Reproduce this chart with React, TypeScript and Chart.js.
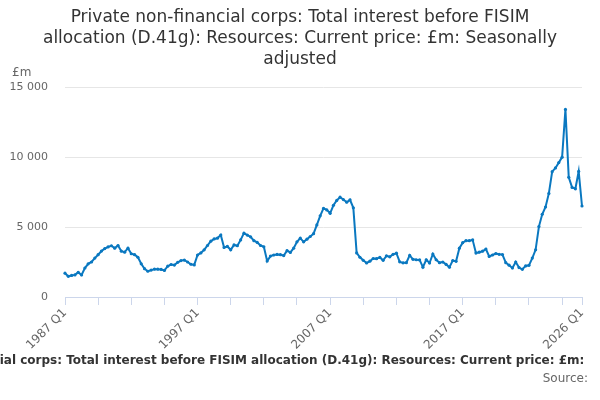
import { Chart, registerables } from "chart.js";
import { useEffect, useRef } from "react";

Chart.register(...registerables);

// quarterly series, 1987 Q1 to 2026 Q1
const firstYear = 1987;
const quarters = Array.from(
  { length: 157 },
  (_, i) => `${firstYear + Math.floor(i / 4)} Q${(i % 4) + 1}`
);
const labelledQuarters = ["1987 Q1", "1997 Q1", "2007 Q1", "2017 Q1", "2026 Q1"];
const yTicks = [0, 5000, 10000, 15000];

// £m
const resources = [
  1700, 1480, 1540, 1580, 1760, 1570, 2070, 2370, 2500, 2780,
  3020, 3280, 3460, 3580, 3660, 3490, 3680, 3270, 3200, 3490,
  3090, 3020, 2840, 2370, 2020, 1840, 1920, 1990, 1990, 1970,
  1900, 2200, 2320, 2280, 2480, 2600, 2640, 2500, 2340, 2290,
  3000, 3150, 3370, 3680, 3990, 4150, 4200, 4430, 3540, 3610,
  3370, 3720, 3660, 4080, 4560, 4420, 4300, 4020, 3900, 3680,
  3590, 2570, 2920, 3000, 3040, 3020, 2960, 3310, 3180, 3490,
  3940, 4200, 3940, 4130, 4320, 4520, 5150, 5800, 6330, 6220,
  5980, 6550, 6900, 7130, 6960, 6770, 6940, 6370, 3150, 2840,
  2620, 2430, 2560, 2750, 2740, 2830, 2620, 2940, 2870, 3050,
  3130, 2510, 2440, 2450, 2970, 2690, 2660, 2650, 2130, 2660,
  2430, 3070, 2660, 2450, 2500, 2330, 2130, 2600, 2550, 3490,
  3880, 4020, 4020, 4080, 3140, 3200, 3270, 3430, 2900, 3000,
  3100, 3050, 3030, 2450, 2270, 2070, 2500, 2100, 1980, 2220,
  2260, 2780, 3370, 5030, 5910, 6430, 7400, 8950, 9220, 9600,
  9990, 13400, 8550, 7830, 7730, 8970, 6500,
];

const titleLines = [
  "Private non-financial corps: Total interest before FISIM",
  "allocation (D.41g): Resources: Current price: £m: Seasonally",
  "adjusted",
];
const fullTitle = titleLines.join(" ");

const FONT = "'DejaVu Sans', sans-serif";

const textPlugin = {
  id: "texts",
  afterDraw(chart: Chart) {
    const ctx = chart.ctx;
    ctx.save();
    ctx.textBaseline = "middle";

    ctx.fillStyle = "#333333";
    ctx.font = `17px ${FONT}`;
    ctx.textAlign = "center";
    titleLines.forEach((line, i) => ctx.fillText(line, 300, 18 + i * 21));

    ctx.fillStyle = "#666666";
    ctx.font = `12px ${FONT}`;
    ctx.textAlign = "left";
    ctx.fillText("£m", 12, 73);

    // x labels at 45 degrees, ending at their tick
    const xScale = chart.scales.x;
    ctx.font = `12px ${FONT}`;
    ctx.textAlign = "right";
    labelledQuarters.forEach((q) => {
      const px = xScale.getPixelForValue(quarters.indexOf(q));
      ctx.save();
      ctx.translate(px, xScale.top + 14);
      ctx.rotate(-Math.PI / 4);
      ctx.fillText(q, 0, 0);
      ctx.restore();
    });

    // the long caption is cut off at both edges
    ctx.save();
    ctx.beginPath();
    ctx.rect(0, 345, 589, 30);
    ctx.clip();
    ctx.fillStyle = "#333333";
    ctx.font = `bold 12px ${FONT}`;
    ctx.textAlign = "center";
    ctx.fillText(fullTitle, 300, 361);
    ctx.restore();

    ctx.fillStyle = "#666666";
    ctx.font = `12px ${FONT}`;
    ctx.textAlign = "right";
    ctx.fillText("Source:", 588, 379);
    ctx.restore();
  },
};

function formatThousands(v: number) {
  return String(v).replace(/\B(?=(\d{3})+(?!\d))/g, " ");
}

export default function App() {
  const chartRef = useRef<HTMLCanvasElement | null>(null);

  useEffect(() => {
    const ctx = chartRef.current?.getContext("2d");
    if (!ctx) return;

    const chart = new Chart(ctx, {
      type: "line",
      data: {
        labels: quarters,
        datasets: [
          {
            data: resources,
            borderColor: "#0a78c0",
            backgroundColor: "#0a78c0",
            borderWidth: 2,
            pointRadius: 1.6,
            pointBorderWidth: 0,
            tension: 0,
          },
        ],
      },
      options: {
        responsive: false,
        animation: false,
        layout: { padding: { top: 87, right: 18, bottom: 53, left: 0 } },
        plugins: {
          legend: { display: false },
          tooltip: { enabled: false },
        },
        scales: {
          x: {
            afterFit: (scale) => {
              scale.height = 50;
            },
            grid: {
              drawOnChartArea: false,
              drawTicks: true,
              tickLength: 8,
              color: "#ccd6eb",
            },
            border: { color: "#ccd6eb" },
            ticks: {
              autoSkip: false,
              maxRotation: 0,
              font: { family: FONT, size: 12 },
              // tick marks every 10 quarters and at the last one; labels drawn by the plugin
              callback: (_v, index) =>
                index % 10 === 0 || index === quarters.length - 1 ? "" : null,
            },
          },
          y: {
            min: yTicks[0],
            max: yTicks[yTicks.length - 1],
            afterFit: (scale) => {
              scale.width = 65;
            },
            afterBuildTicks: (scale) => {
              scale.ticks = yTicks.map((value) => ({ value }));
            },
            grid: { color: "#e6e6e6", drawTicks: false },
            border: { display: false },
            ticks: {
              padding: 17,
              color: "#666666",
              font: { family: FONT, size: 11 },
              callback: (v) => formatThousands(Number(v)),
            },
          },
        },
      },
      plugins: [textPlugin],
    });

    return () => chart.destroy();
  }, []);

  return (
    <div style={{ position: "absolute", left: 0, top: 0, width: 600, height: 400, background: "#fff" }}>
      <canvas ref={chartRef} width={600} height={400} />
    </div>
  );
}
